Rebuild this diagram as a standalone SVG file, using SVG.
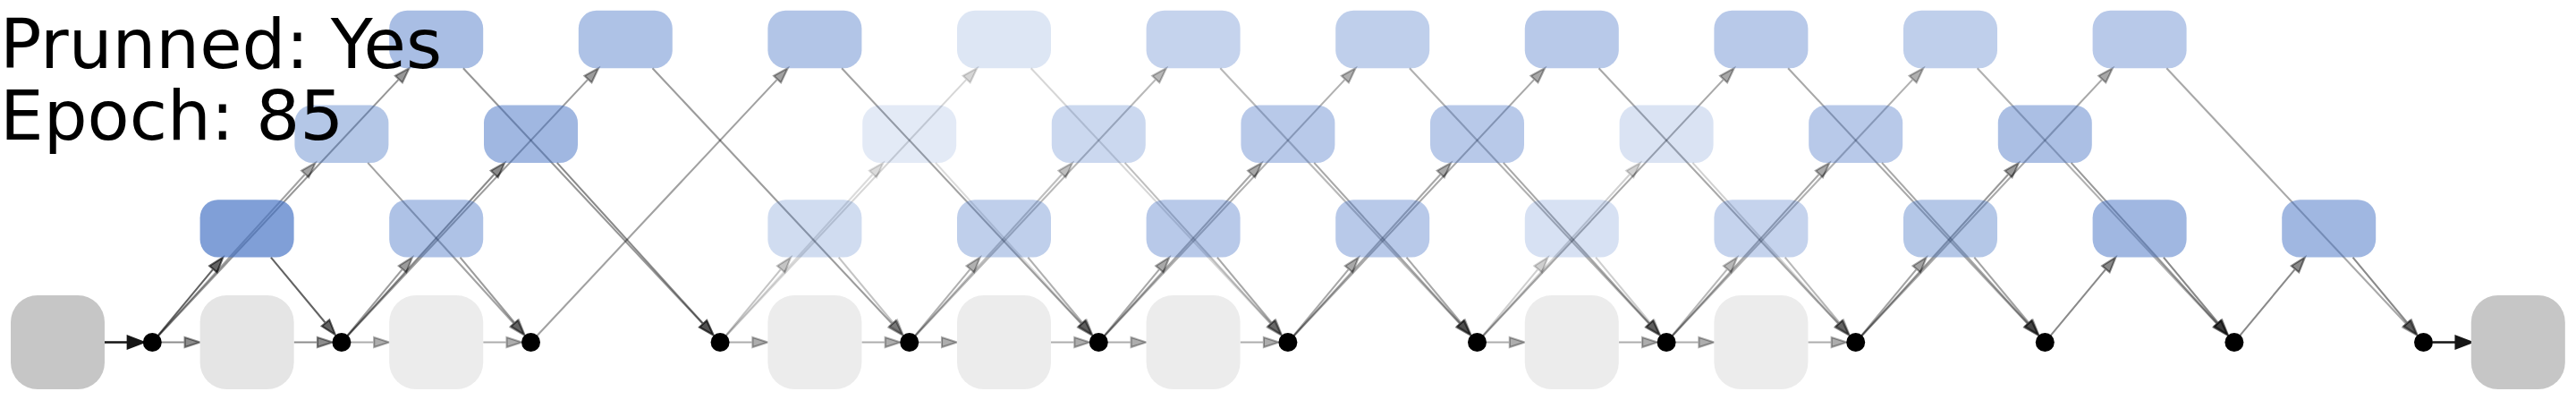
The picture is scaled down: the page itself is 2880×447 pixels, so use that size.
<svg xmlns="http://www.w3.org/2000/svg" width="2880" height="447" viewBox="0 0 2880 447">
<style>
.b{fill:#4472c4}
.g{fill:#ececec}
.io{fill:#c6c6c6}
.d{fill:#000}
.e{fill:#000;stroke:#000;stroke-width:2.1}
.k{fill:#151515;stroke:#151515;stroke-width:2.7}
.t{font-family:"DejaVu Sans",sans-serif;font-size:77px;fill:#000}
</style>
<defs>
<path id="up1" class="e" d="M6.4,-7.7L68.12,-81.83M72.35,-78.31L79,-94.9L63.89,-85.35Z"/>
<path id="up2" class="e" d="M6.73,-7.4L170.87,-188.02M174.94,-184.32L182.3,-200.6L166.8,-191.72Z"/>
<path id="up3" class="e" d="M6.84,-7.3L275.57,-293.9M279.58,-290.14L287.2,-306.3L271.56,-297.66Z"/>
<path id="dn1" class="e" d="M-79,-94.9L-17.92,-21.52M-13.69,-25.04L-7.04,-8.45L-22.15,-18Z"/>
<path id="dn2" class="e" d="M-182.3,-200.6L-18.83,-20.72M-14.76,-24.42L-7.4,-8.14L-22.9,-17.02Z"/>
<path id="dn3" class="e" d="M-287.2,-306.3L-19.15,-20.42M-15.14,-24.18L-7.52,-8.02L-23.16,-16.66Z"/>
<path id="hin" class="e" d="M10,0L36.3,0M36.3,-5.5L53.3,0L36.3,5.5Z"/>
<path id="hout" class="e" d="M-53.3,0L-27,0M-27,-5.5L-10,0L-27,5.5Z"/>
</defs>
<g id="connectors">
<path class="k" d="M117,382.5L143,382.5M143,376L160,382.5L143,389Z"/>
<path class="k" d="M2719.5,382.5L2745.8,382.5M2745.8,376L2762.8,382.5L2745.8,389Z"/>
<use href="#hin" x="170.3" y="382.5" style="fill-opacity:.45;stroke-opacity:.45"/>
<use href="#hout" x="381.9" y="382.5" style="fill-opacity:.45;stroke-opacity:.45"/>
<use href="#hin" x="381.9" y="382.5" style="fill-opacity:.32;stroke-opacity:.32"/>
<use href="#hout" x="593.5" y="382.5" style="fill-opacity:.32;stroke-opacity:.32"/>
<use href="#hin" x="805.1" y="382.5" style="fill-opacity:.32;stroke-opacity:.32"/>
<use href="#hout" x="1016.7" y="382.5" style="fill-opacity:.32;stroke-opacity:.32"/>
<use href="#hin" x="1016.7" y="382.5" style="fill-opacity:.32;stroke-opacity:.32"/>
<use href="#hout" x="1228.3" y="382.5" style="fill-opacity:.32;stroke-opacity:.32"/>
<use href="#hin" x="1228.3" y="382.5" style="fill-opacity:.32;stroke-opacity:.32"/>
<use href="#hout" x="1439.9" y="382.5" style="fill-opacity:.32;stroke-opacity:.32"/>
<use href="#hin" x="1651.5" y="382.5" style="fill-opacity:.32;stroke-opacity:.32"/>
<use href="#hout" x="1863.1" y="382.5" style="fill-opacity:.32;stroke-opacity:.32"/>
<use href="#hin" x="1863.1" y="382.5" style="fill-opacity:.32;stroke-opacity:.32"/>
<use href="#hout" x="2074.7" y="382.5" style="fill-opacity:.32;stroke-opacity:.32"/>

<use href="#up1" x="170.3" y="382.5" style="fill-opacity:.61;stroke-opacity:.61"/>
<use href="#dn1" x="381.9" y="382.5" style="fill-opacity:.61;stroke-opacity:.61"/>
<use href="#up1" x="381.9" y="382.5" style="fill-opacity:.39;stroke-opacity:.39"/>
<use href="#dn1" x="593.5" y="382.5" style="fill-opacity:.39;stroke-opacity:.39"/>
<use href="#up1" x="805.1" y="382.5" style="fill-opacity:.23;stroke-opacity:.23"/>
<use href="#dn1" x="1016.7" y="382.5" style="fill-opacity:.23;stroke-opacity:.23"/>
<use href="#up1" x="1016.7" y="382.5" style="fill-opacity:.31;stroke-opacity:.31"/>
<use href="#dn1" x="1228.3" y="382.5" style="fill-opacity:.31;stroke-opacity:.31"/>
<use href="#up1" x="1228.3" y="382.5" style="fill-opacity:.34;stroke-opacity:.34"/>
<use href="#dn1" x="1439.9" y="382.5" style="fill-opacity:.34;stroke-opacity:.34"/>
<use href="#up1" x="1439.9" y="382.5" style="fill-opacity:.34;stroke-opacity:.34"/>
<use href="#dn1" x="1651.5" y="382.5" style="fill-opacity:.34;stroke-opacity:.34"/>
<use href="#up1" x="1651.5" y="382.5" style="fill-opacity:.19;stroke-opacity:.19"/>
<use href="#dn1" x="1863.1" y="382.5" style="fill-opacity:.19;stroke-opacity:.19"/>
<use href="#up1" x="1863.1" y="382.5" style="fill-opacity:.28;stroke-opacity:.28"/>
<use href="#dn1" x="2074.7" y="382.5" style="fill-opacity:.28;stroke-opacity:.28"/>
<use href="#up1" x="2074.7" y="382.5" style="fill-opacity:.36;stroke-opacity:.36"/>
<use href="#dn1" x="2286.3" y="382.5" style="fill-opacity:.36;stroke-opacity:.36"/>
<use href="#up1" x="2286.3" y="382.5" style="fill-opacity:.46;stroke-opacity:.46"/>
<use href="#dn1" x="2497.9" y="382.5" style="fill-opacity:.46;stroke-opacity:.46"/>
<use href="#up1" x="2497.9" y="382.5" style="fill-opacity:.46;stroke-opacity:.46"/>
<use href="#dn1" x="2709.5" y="382.5" style="fill-opacity:.46;stroke-opacity:.46"/>

<use href="#up2" x="170.3" y="382.5" style="fill-opacity:.36;stroke-opacity:.36"/>
<use href="#dn2" x="593.5" y="382.5" style="fill-opacity:.36;stroke-opacity:.36"/>
<use href="#up2" x="381.9" y="382.5" style="fill-opacity:.46;stroke-opacity:.46"/>
<use href="#dn2" x="805.1" y="382.5" style="fill-opacity:.46;stroke-opacity:.46"/>
<use href="#up2" x="805.1" y="382.5" style="fill-opacity:.14;stroke-opacity:.14"/>
<use href="#dn2" x="1228.3" y="382.5" style="fill-opacity:.14;stroke-opacity:.14"/>
<use href="#up2" x="1016.7" y="382.5" style="fill-opacity:.25;stroke-opacity:.25"/>
<use href="#dn2" x="1439.9" y="382.5" style="fill-opacity:.25;stroke-opacity:.25"/>
<use href="#up2" x="1228.3" y="382.5" style="fill-opacity:.34;stroke-opacity:.34"/>
<use href="#dn2" x="1651.5" y="382.5" style="fill-opacity:.34;stroke-opacity:.34"/>
<use href="#up2" x="1439.9" y="382.5" style="fill-opacity:.34;stroke-opacity:.34"/>
<use href="#dn2" x="1863.1" y="382.5" style="fill-opacity:.34;stroke-opacity:.34"/>
<use href="#up2" x="1651.5" y="382.5" style="fill-opacity:.18;stroke-opacity:.18"/>
<use href="#dn2" x="2074.7" y="382.5" style="fill-opacity:.18;stroke-opacity:.18"/>
<use href="#up2" x="1863.1" y="382.5" style="fill-opacity:.34;stroke-opacity:.34"/>
<use href="#dn2" x="2286.3" y="382.5" style="fill-opacity:.34;stroke-opacity:.34"/>
<use href="#up2" x="2074.7" y="382.5" style="fill-opacity:.4;stroke-opacity:.4"/>
<use href="#dn2" x="2497.9" y="382.5" style="fill-opacity:.4;stroke-opacity:.4"/>

<use href="#up3" x="170.3" y="382.5" style="fill-opacity:.41;stroke-opacity:.41"/>
<use href="#dn3" x="805.1" y="382.5" style="fill-opacity:.41;stroke-opacity:.41"/>
<use href="#up3" x="381.9" y="382.5" style="fill-opacity:.39;stroke-opacity:.39"/>
<use href="#dn3" x="1016.7" y="382.5" style="fill-opacity:.39;stroke-opacity:.39"/>
<use href="#up3" x="593.5" y="382.5" style="fill-opacity:.37;stroke-opacity:.37"/>
<use href="#dn3" x="1228.3" y="382.5" style="fill-opacity:.37;stroke-opacity:.37"/>
<use href="#up3" x="805.1" y="382.5" style="fill-opacity:.16;stroke-opacity:.16"/>
<use href="#dn3" x="1439.9" y="382.5" style="fill-opacity:.16;stroke-opacity:.16"/>
<use href="#up3" x="1016.7" y="382.5" style="fill-opacity:.28;stroke-opacity:.28"/>
<use href="#dn3" x="1651.5" y="382.5" style="fill-opacity:.28;stroke-opacity:.28"/>
<use href="#up3" x="1228.3" y="382.5" style="fill-opacity:.31;stroke-opacity:.31"/>
<use href="#dn3" x="1863.1" y="382.5" style="fill-opacity:.31;stroke-opacity:.31"/>
<use href="#up3" x="1439.9" y="382.5" style="fill-opacity:.34;stroke-opacity:.34"/>
<use href="#dn3" x="2074.7" y="382.5" style="fill-opacity:.34;stroke-opacity:.34"/>
<use href="#up3" x="1651.5" y="382.5" style="fill-opacity:.34;stroke-opacity:.34"/>
<use href="#dn3" x="2286.3" y="382.5" style="fill-opacity:.34;stroke-opacity:.34"/>
<use href="#up3" x="1863.1" y="382.5" style="fill-opacity:.31;stroke-opacity:.31"/>
<use href="#dn3" x="2497.9" y="382.5" style="fill-opacity:.31;stroke-opacity:.31"/>
<use href="#up3" x="2074.7" y="382.5" style="fill-opacity:.34;stroke-opacity:.34"/>
<use href="#dn3" x="2709.5" y="382.5" style="fill-opacity:.34;stroke-opacity:.34"/>
</g>

<g id="in"><rect class="io" x="12" y="330" width="105" height="105" rx="30"/></g>
<g id="out"><rect class="io" x="2762.8" y="330" width="105" height="105" rx="30"/></g>
<g id="g2"><rect class="g" style="fill:#e5e5e5" x="223.6" y="330" width="105" height="105" rx="30"/></g>
<g id="g4"><rect class="g" x="435.2" y="330" width="105" height="105" rx="30"/></g>
<g id="g8"><rect class="g" x="858.4" y="330" width="105" height="105" rx="30"/></g>
<g id="g10"><rect class="g" x="1070" y="330" width="105" height="105" rx="30"/></g>
<g id="g12"><rect class="g" x="1281.6" y="330" width="105" height="105" rx="30"/></g>
<g id="g16"><rect class="g" x="1704.8" y="330" width="105" height="105" rx="30"/></g>
<g id="g18"><rect class="g" x="1916.4" y="330" width="105" height="105" rx="30"/></g>

<g id="r3_2"><rect class="b" fill-opacity=".68" x="223.6" y="223.2" width="105" height="64.4" rx="20"/></g>
<g id="r3_4"><rect class="b" fill-opacity=".43" x="435.2" y="223.2" width="105" height="64.4" rx="20"/></g>
<g id="r3_8"><rect class="b" fill-opacity=".25" x="858.4" y="223.2" width="105" height="64.4" rx="20"/></g>
<g id="r3_10"><rect class="b" fill-opacity=".34" x="1070" y="223.2" width="105" height="64.4" rx="20"/></g>
<g id="r3_12"><rect class="b" fill-opacity=".38" x="1281.6" y="223.2" width="105" height="64.4" rx="20"/></g>
<g id="r3_14"><rect class="b" fill-opacity=".38" x="1493.2" y="223.2" width="105" height="64.4" rx="20"/></g>
<g id="r3_16"><rect class="b" fill-opacity=".21" x="1704.8" y="223.2" width="105" height="64.4" rx="20"/></g>
<g id="r3_18"><rect class="b" fill-opacity=".31" x="1916.4" y="223.2" width="105" height="64.4" rx="20"/></g>
<g id="r3_20"><rect class="b" fill-opacity=".40" x="2128" y="223.2" width="105" height="64.4" rx="20"/></g>
<g id="r3_22"><rect class="b" fill-opacity=".51" x="2339.6" y="223.2" width="105" height="64.4" rx="20"/></g>
<g id="r3_24"><rect class="b" fill-opacity=".51" x="2551.2" y="223.2" width="105" height="64.4" rx="20"/></g>

<g id="r2_3"><rect class="b" fill-opacity=".40" x="329.4" y="117.5" width="105" height="64.4" rx="20"/></g>
<g id="r2_5"><rect class="b" fill-opacity=".51" x="541" y="117.5" width="105" height="64.4" rx="20"/></g>
<g id="r2_9"><rect class="b" fill-opacity=".15" x="964.2" y="117.5" width="105" height="64.4" rx="20"/></g>
<g id="r2_11"><rect class="b" fill-opacity=".28" x="1175.8" y="117.5" width="105" height="64.4" rx="20"/></g>
<g id="r2_13"><rect class="b" fill-opacity=".38" x="1387.4" y="117.5" width="105" height="64.4" rx="20"/></g>
<g id="r2_15"><rect class="b" fill-opacity=".38" x="1599" y="117.5" width="105" height="64.4" rx="20"/></g>
<g id="r2_17"><rect class="b" fill-opacity=".20" x="1810.6" y="117.5" width="105" height="64.4" rx="20"/></g>
<g id="r2_19"><rect class="b" fill-opacity=".38" x="2022.2" y="117.5" width="105" height="64.4" rx="20"/></g>
<g id="r2_21"><rect class="b" fill-opacity=".45" x="2233.8" y="117.5" width="105" height="64.4" rx="20"/></g>

<g id="r1_4"><rect class="b" fill-opacity=".46" x="435.2" y="11.8" width="105" height="64.4" rx="20"/></g>
<g id="r1_6"><rect class="b" fill-opacity=".43" x="646.8" y="11.8" width="105" height="64.4" rx="20"/></g>
<g id="r1_8"><rect class="b" fill-opacity=".41" x="858.4" y="11.8" width="105" height="64.4" rx="20"/></g>
<g id="r1_10"><rect class="b" fill-opacity=".18" x="1070" y="11.8" width="105" height="64.4" rx="20"/></g>
<g id="r1_12"><rect class="b" fill-opacity=".31" x="1281.6" y="11.8" width="105" height="64.4" rx="20"/></g>
<g id="r1_14"><rect class="b" fill-opacity=".34" x="1493.2" y="11.8" width="105" height="64.4" rx="20"/></g>
<g id="r1_16"><rect class="b" fill-opacity=".38" x="1704.8" y="11.8" width="105" height="64.4" rx="20"/></g>
<g id="r1_18"><rect class="b" fill-opacity=".38" x="1916.4" y="11.8" width="105" height="64.4" rx="20"/></g>
<g id="r1_20"><rect class="b" fill-opacity=".34" x="2128" y="11.8" width="105" height="64.4" rx="20"/></g>
<g id="r1_22"><rect class="b" fill-opacity=".38" x="2339.6" y="11.8" width="105" height="64.4" rx="20"/></g>

<g id="dots">
<circle class="d" cx="170.3" cy="382.5" r="10.5"/>
<circle class="d" cx="381.9" cy="382.5" r="10.5"/>
<circle class="d" cx="593.5" cy="382.5" r="10.5"/>
<circle class="d" cx="805.1" cy="382.5" r="10.5"/>
<circle class="d" cx="1016.7" cy="382.5" r="10.5"/>
<circle class="d" cx="1228.3" cy="382.5" r="10.5"/>
<circle class="d" cx="1439.9" cy="382.5" r="10.5"/>
<circle class="d" cx="1651.5" cy="382.5" r="10.5"/>
<circle class="d" cx="1863.1" cy="382.5" r="10.5"/>
<circle class="d" cx="2074.7" cy="382.5" r="10.5"/>
<circle class="d" cx="2286.3" cy="382.5" r="10.5"/>
<circle class="d" cx="2497.9" cy="382.5" r="10.5"/>
<circle class="d" cx="2709.5" cy="382.5" r="10.5"/>
</g>

<g id="label">
<text class="t"><tspan x="0" y="76">Prunned: Yes</tspan><tspan x="0" y="156">Epoch: 85</tspan></text>
</g>
</svg>
